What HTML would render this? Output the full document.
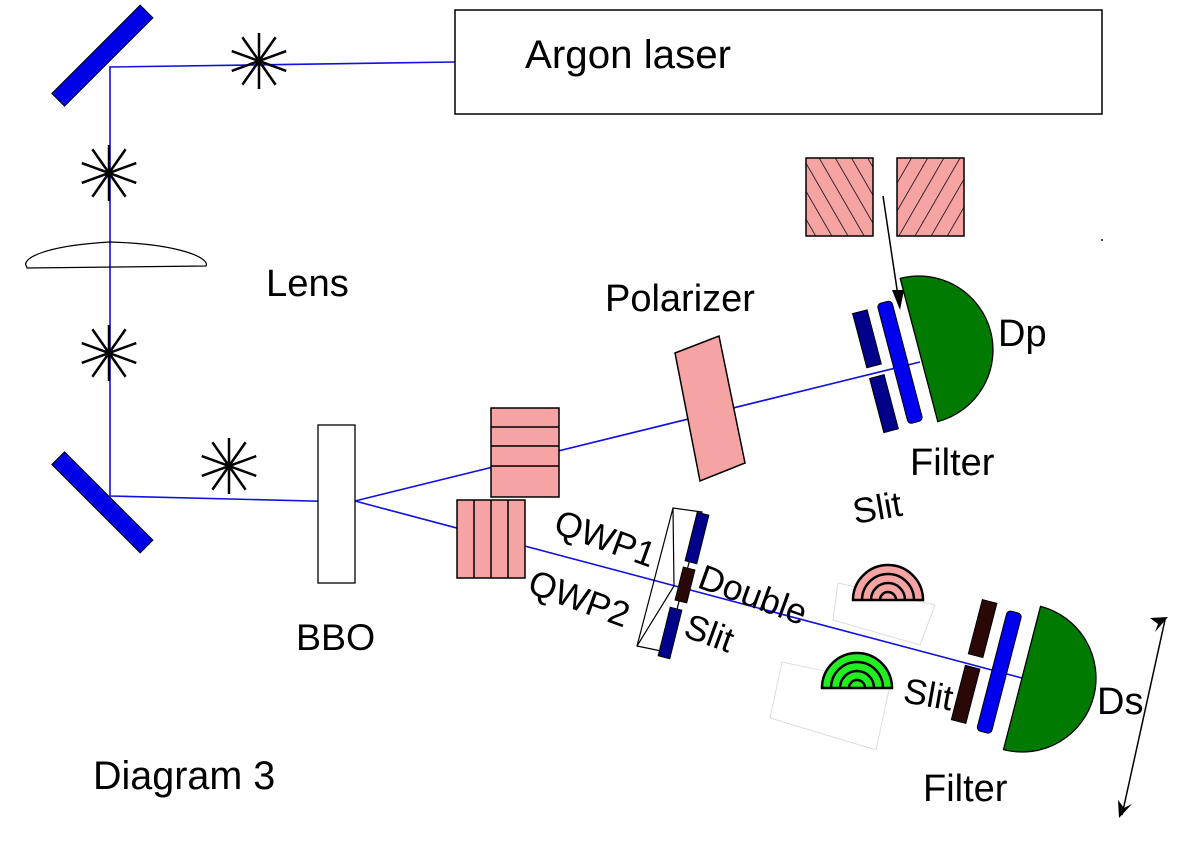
<!DOCTYPE html>
<html><head><meta charset="utf-8"><style>html,body{margin:0;padding:0;background:#fff}svg{display:block}text{font-family:"Liberation Sans",sans-serif;fill:#000}</style></head><body>
<svg width="1200" height="857" viewBox="0 0 1200 857" xmlns="http://www.w3.org/2000/svg">
<defs>
<g id="star" stroke="#000" stroke-width="2.5"><line x1="0" y1="-28" x2="0" y2="28"/><line x1="-29" y1="0" x2="29" y2="0" transform="rotate(20)"/><line x1="-29" y1="0" x2="29" y2="0" transform="rotate(-20)"/><line x1="-29" y1="0" x2="29" y2="0" transform="rotate(55)"/><line x1="-29" y1="0" x2="29" y2="0" transform="rotate(-55)"/></g>
<pattern id="h1" width="14" height="14" patternUnits="userSpaceOnUse" patternTransform="rotate(-30)"><rect width="14" height="14" fill="#f5a3a3"/><line x1="0" y1="0" x2="0" y2="14" stroke="#000" stroke-width="1.5"/></pattern>
<pattern id="h2" width="14" height="14" patternUnits="userSpaceOnUse" patternTransform="rotate(30)"><rect width="14" height="14" fill="#f5a3a3"/><line x1="0" y1="0" x2="0" y2="14" stroke="#000" stroke-width="1.5"/></pattern>
</defs>
<g stroke="#1010e0" stroke-width="1.6" fill="none">
<polyline points="455,62 110,67 110,496 350,502"/>
<line x1="355" y1="501" x2="920" y2="362"/>
<line x1="355" y1="501" x2="1022" y2="678"/>
</g>
<rect x="40" y="-9" width="125" height="18" fill="#0000e6" stroke="#000" transform="translate(102,56) rotate(-45) translate(-102,0)"/>
<rect x="40" y="-9" width="125" height="18" fill="#0000e6" stroke="#000" transform="translate(102,502) rotate(45) translate(-102,0)"/>
<use href="#star" x="259" y="61"/>
<use href="#star" x="109" y="173"/>
<use href="#star" x="109" y="353"/>
<use href="#star" x="229" y="466"/>
<path d="M27,267 C20,260 40,246 110,242 C180,244 210,258 206,266 L27,268 Z" fill="none" stroke="#000" stroke-width="1.2"/>
<rect x="455" y="10" width="647" height="104" fill="none" stroke="#000" stroke-width="1.5"/>
<text x="525" y="68" font-size="40.3">Argon laser</text>
<text x="266" y="296" font-size="38.2">Lens</text>
<rect x="318" y="425" width="37" height="158" fill="#fff" stroke="#000" stroke-width="1.3"/>
<text x="296" y="650" font-size="37.5">BBO</text>
<text x="93" y="789" font-size="39.5">Diagram 3</text>
<g fill="#f5a3a3" stroke="#000" stroke-width="1.5">
<rect x="491" y="408" width="68" height="89"/>
<line x1="491" y1="427" x2="559" y2="427"/><line x1="491" y1="446" x2="559" y2="446"/><line x1="491" y1="466" x2="559" y2="466"/>
<rect x="457" y="500" width="68" height="78"/>
<line x1="474" y1="500" x2="474" y2="578"/><line x1="491" y1="500" x2="491" y2="578"/><line x1="508" y1="500" x2="508" y2="578"/>
<polygon points="675,353 719,336 745,463 700,481"/>
<rect x="806" y="158" width="67" height="78" fill="url(#h1)"/>
<rect x="897" y="158" width="67" height="78" fill="url(#h2)"/>
</g>
<text x="605" y="311" font-size="38">Polarizer</text>
<g transform="rotate(-14.7,919,350)">
<path d="M919,276 A74,74 0 0 1 919,424 Z" fill="#007a00" stroke="#000" stroke-width="1.3"/>
<rect x="890" y="295" width="15" height="124" rx="4" fill="#0000ee" stroke="#000"/>
<rect x="864" y="298" width="15" height="56" fill="#00008a" stroke="#000"/>
<rect x="864" y="365" width="15" height="56" fill="#00008a" stroke="#000"/>
</g>
<line x1="883" y1="196" x2="898" y2="296" stroke="#000" stroke-width="1.5"/>
<polygon points="892,290 904,290 900,310" fill="#000"/>
<circle cx="1102" cy="240" r="1" fill="#000"/>
<text x="998" y="346" font-size="38">Dp</text>
<text x="910" y="475" font-size="38">Filter</text>
<g fill="none" stroke="#000" stroke-width="1.2">
<polygon points="673,508 702,512 666,652 637,646"/>
<polyline points="673,508 674,586 637,646"/>
</g>
<rect x="-6" y="-25" width="12" height="50" fill="#00008a" stroke="#000" transform="translate(697,538) rotate(14)"/>
<rect x="-6" y="-17" width="12" height="34" fill="#2a0808" stroke="#000" transform="translate(685,585) rotate(14)"/>
<rect x="-6" y="-25" width="12" height="50" fill="#00008a" stroke="#000" transform="translate(670,633) rotate(14)"/>
<text font-size="35.5" transform="translate(552,532) rotate(20)">QWP1</text>
<text font-size="35.5" transform="translate(526,592) rotate(20)">QWP2</text>
<text font-size="35.5" transform="translate(696,587) rotate(20)">Double</text>
<text font-size="35.5" transform="translate(682,636) rotate(20)">Slit</text>
<polygon points="838,583 935,605 920,645 833,620" fill="none" stroke="#ddd"/>
<polygon points="782,662 890,685 876,750 770,718" fill="none" stroke="#ddd"/>
<g stroke="#000" stroke-width="2.5">
<path d="M853,600 A35,35 0 0 1 923,600 Z" fill="#f5a3a3"/>
<path d="M862,600 A26,26 0 0 1 914,600" fill="none"/>
<path d="M871,600 A17,17 0 0 1 905,600" fill="none"/>
<path d="M880,600 A8,8 0 0 1 896,600" fill="none"/>
</g>
<g stroke="#000" stroke-width="2.5">
<path d="M822,688 A35,35 0 0 1 892,688 L822,688 Z" fill="#22ee22"/>
<path d="M831,688 A26,26 0 0 1 883,688" fill="none"/>
<path d="M840,688 A17,17 0 0 1 874,688" fill="none"/>
<path d="M849,688 A8,8 0 0 1 865,688" fill="none"/>
</g>
<text font-size="35.5" transform="translate(855,524) rotate(-10)">Slit</text>
<text font-size="35.5" transform="translate(902,702) rotate(10)">Slit</text>
<g transform="rotate(14.5,1022,678)">
<path d="M1022,604 A74,74 0 0 1 1022,752 Z" fill="#007a00" stroke="#000" stroke-width="1.3"/>
<rect x="991" y="616" width="15" height="124" rx="4" fill="#0000ee" stroke="#000"/>
<rect x="964" y="612" width="15" height="56" fill="#2a0808" stroke="#000"/>
<rect x="964" y="680" width="15" height="56" fill="#2a0808" stroke="#000"/>
</g>
<text x="1097" y="714" font-size="38">Ds</text>
<text x="923" y="801" font-size="38">Filter</text>
<line x1="1165" y1="620" x2="1122" y2="815" stroke="#000" stroke-width="1.5"/>
<polygon points="1168,617 1150,618 1158,624 1155,632" fill="#000"/>
<polygon points="1119,818 1118,800 1124,808 1132,804" fill="#000"/>
</svg>
</body></html>
